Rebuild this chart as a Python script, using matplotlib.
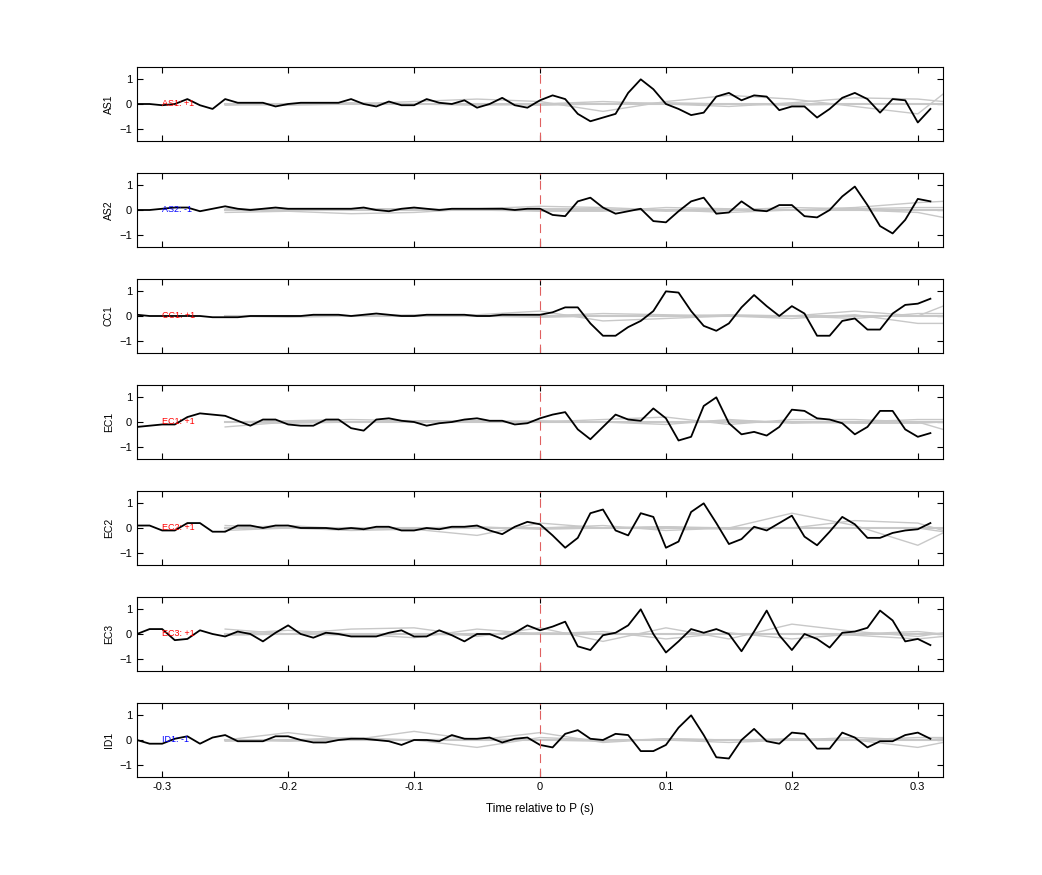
import matplotlib.pyplot as plt
import numpy as np

# ── Data ──────────────────────────────────────────────────────────────────
t = np.round(np.arange(-0.32, 0.315, 0.01), 2)          # 64 samples
t_gray = [-0.25, -0.2, -0.15, -0.1, -0.05, 0.0, 0.05, 0.1, 0.15, 0.2, 0.25, 0.3, 0.32]

channels = ['AS1', 'AS2', 'CC1', 'EC1', 'EC2', 'EC3', 'ID1']
polarity = ['+1', '-1', '+1', '+1', '+1', '+1', '-1']

as1 = [0, 0, -0.05, 0, 0.2, -0.05, -0.2, 0.2, 0.05, 0.05, 0.05, -0.1, 0, 0.05, 0.05, 0.05,
       0.05, 0.2, 0, -0.1, 0.1, -0.05, -0.05, 0.2, 0.05, 0, 0.15, -0.15, 0, 0.25, -0.05, -0.15,
       0.15, 0.35, 0.2, -0.4, -0.7, -0.55, -0.4, 0.45, 1.0, 0.6, 0, -0.2, -0.45, -0.35, 0.3, 0.45,
       0.15, 0.35, 0.3, -0.25, -0.1, -0.1, -0.55, -0.2, 0.25, 0.45, 0.2, -0.35, 0.2, 0.15, -0.75, -0.2]
as2 = [0, 0, 0.05, 0.1, 0.1, -0.05, 0.05, 0.15, 0.05, 0, 0.05, 0.1, 0.05, 0.05, 0.05, 0.05,
       0.05, 0.05, 0.1, 0, -0.05, 0.05, 0.1, 0.05, 0, 0.05, 0.05, 0.05, 0.05, 0.05, 0, 0.05,
       0.05, -0.2, -0.25, 0.35, 0.5, 0.1, -0.15, -0.05, 0.05, -0.45, -0.5, -0.05, 0.35, 0.5, -0.15, -0.1,
       0.35, 0, -0.05, 0.2, 0.2, -0.25, -0.3, 0, 0.55, 0.95, 0.2, -0.65, -0.95, -0.4, 0.45, 0.35]
cc1 = [0.05, 0, 0, 0, 0, 0, -0.05, -0.05, -0.05, 0, 0, 0, 0, 0, 0.05, 0.05,
       0.05, 0, 0.05, 0.1, 0.05, 0, 0, 0.05, 0.05, 0.05, 0.05, 0, 0, 0.05, 0.05, 0.05,
       0.05, 0.15, 0.35, 0.35, -0.3, -0.8, -0.8, -0.45, -0.2, 0.2, 1.0, 0.95, 0.2, -0.4, -0.6, -0.3,
       0.35, 0.85, 0.4, 0, 0.4, 0.1, -0.8, -0.8, -0.2, -0.1, -0.55, -0.55, 0.1, 0.45, 0.5, 0.7]
ec1 = [-0.2, -0.15, -0.1, -0.1, 0.2, 0.35, 0.3, 0.25, 0.05, -0.15, 0.1, 0.1, -0.1, -0.15, -0.15, 0.1,
       0.1, -0.25, -0.35, 0.1, 0.15, 0.05, 0, -0.15, -0.05, 0, 0.1, 0.15, 0.05, 0.05, -0.1, -0.05,
       0.15, 0.3, 0.4, -0.3, -0.7, -0.2, 0.3, 0.1, 0.05, 0.55, 0.15, -0.75, -0.6, 0.65, 1.0, -0.05,
       -0.5, -0.4, -0.55, -0.2, 0.5, 0.45, 0.15, 0.1, -0.05, -0.5, -0.2, 0.45, 0.45, -0.3, -0.6, -0.45]
ec2 = [0.1, 0.1, -0.1, -0.1, 0.2, 0.2, -0.15, -0.15, 0.1, 0.1, 0, 0.1, 0.1, 0, 0, 0,
       -0.05, 0, -0.05, 0.05, 0.05, -0.1, -0.1, 0, -0.05, 0.05, 0.05, 0.1, -0.1, -0.25, 0.05, 0.25,
       0.15, -0.3, -0.8, -0.4, 0.6, 0.75, -0.1, -0.3, 0.6, 0.45, -0.8, -0.55, 0.65, 1.0, 0.2, -0.65,
       -0.45, 0.05, -0.1, 0.2, 0.5, -0.35, -0.7, -0.15, 0.45, 0.15, -0.4, -0.4, -0.2, -0.1, -0.05, 0.2]
ec3 = [0, 0.2, 0.2, -0.25, -0.2, 0.15, 0, -0.1, 0.1, 0, -0.3, 0.05, 0.35, 0, -0.15, 0.05,
       0, -0.1, -0.1, -0.1, 0.05, 0.15, -0.1, -0.1, 0.15, -0.05, -0.3, 0, 0, -0.2, 0.05, 0.35,
       0.15, 0.3, 0.5, -0.5, -0.65, -0.05, 0.05, 0.35, 1.0, 0, -0.75, -0.3, 0.2, 0.05, 0.2, 0,
       -0.7, 0.1, 0.95, -0.05, -0.65, 0, -0.2, -0.55, 0.05, 0.1, 0.25, 0.95, 0.55, -0.3, -0.2, -0.45]
id1 = [0, -0.15, -0.15, 0.05, 0.15, -0.15, 0.1, 0.2, -0.05, -0.05, -0.05, 0.15, 0.15, 0, -0.1, -0.1,
       0, 0.05, 0.05, 0, -0.05, -0.2, 0, 0, -0.05, 0.2, 0.05, 0.05, 0.1, -0.1, 0.05, 0.1,
       -0.2, -0.3, 0.25, 0.4, 0.05, 0, 0.25, 0.2, -0.45, -0.45, -0.2, 0.5, 1.0, 0.2, -0.7, -0.75,
       0, 0.45, -0.05, -0.15, 0.3, 0.25, -0.35, -0.35, 0.3, 0.1, -0.3, -0.05, -0.05, 0.2, 0.3, 0.05]

# smooth grey reference traces (coarse samples)
gray_as1 = [[0, 0, 0, 0.1, 0.2, 0.1, -0.3, 0.1, 0.35, 0.2, -0.1, -0.4, 0.4],
            [-0.05, 0, 0.05, 0, -0.05, 0, 0.1, 0, -0.1, 0.05, 0.25, 0.2, 0.1],
            [0, -0.05, 0, 0, 0, -0.05, 0, 0.05, 0, -0.05, 0, 0, 0]]
gray_as2 = [[-0.1, -0.05, -0.15, -0.1, 0.05, 0.15, 0.1, 0, -0.1, 0, 0.1, 0.3, 0.35],
            [0, 0.05, 0, 0, 0, -0.05, -0.05, 0.1, 0.05, 0, 0, -0.1, -0.3],
            [0.05, 0, 0.05, 0.05, 0, 0.05, 0.05, -0.05, 0, 0.1, 0.05, 0.1, 0.1]]
gray_cc1 = [[0, 0, 0, 0, 0.05, 0.2, -0.2, -0.1, 0, 0, 0.2, 0, 0.4],
            [0, -0.05, 0, 0, 0, 0, 0.1, 0.05, 0, -0.1, 0.05, -0.3, -0.3],
            [0, 0, 0, 0.05, 0, -0.05, 0, 0, 0.05, 0, -0.1, 0.1, 0.1]]
gray_ec1 = [[-0.2, 0, 0, 0.05, 0.05, 0, 0.1, 0.2, -0.1, 0.1, 0.1, 0, -0.3],
            [0, 0.05, 0.1, 0.05, 0, 0.05, 0, -0.1, 0.1, -0.05, 0, 0.1, 0.1],
            [0, -0.05, 0, 0, 0.05, 0, 0, 0, 0.05, 0, -0.05, -0.05, 0]]
gray_ec2 = [[0.1, 0, -0.1, -0.05, -0.3, 0.2, 0, 0.05, 0, 0.6, 0.1, -0.7, -0.2],
            [-0.1, 0, 0, -0.05, 0, 0, 0.1, -0.1, 0, 0, 0.3, 0.2, -0.1],
            [0, 0.1, -0.05, 0, 0.05, -0.05, 0, 0.05, -0.05, 0, 0, 0, -0.15]]
gray_ec3 = [[0.2, 0, 0.2, 0.25, -0.1, 0.25, -0.3, 0.25, -0.2, 0.4, 0.1, -0.1, 0.05],
            [0, 0.15, 0, -0.15, 0.2, 0, 0.1, -0.2, 0.05, -0.2, 0, 0.1, 0],
            [-0.05, 0, -0.05, 0, -0.05, 0.05, 0, 0, 0, 0, -0.05, -0.2, -0.1]]
gray_id1 = [[0, 0.3, 0, 0.35, 0, 0.3, -0.1, 0.05, 0, 0.05, 0, -0.3, -0.1],
            [-0.05, 0, 0.1, 0, -0.3, 0.1, 0, 0, -0.1, 0, 0.1, 0, 0.05],
            [0, -0.05, 0, 0, 0.05, 0, -0.05, 0.05, 0, 0, 0, 0.1, 0.1]]

traces = [as1, as2, cc1, ec1, ec2, ec3, id1]
grays = [gray_as1, gray_as2, gray_cc1, gray_ec1, gray_ec2, gray_ec3, gray_id1]

# ── Figure ────────────────────────────────────────────────────────────────
W, H = 1042, 875
fig = plt.figure(figsize=(W / 100, H / 100), dpi=100)
plt.rcParams['font.family'] = ['Liberation Sans', 'DejaVu Sans']

left, right = 137 / W, 943 / W
tops = [67, 173, 279, 385, 491, 597, 703]
ph = 74

for i, (name, pol) in enumerate(zip(channels, polarity)):
    ax = fig.add_axes([left, 1 - (tops[i] + ph) / H, right - left, ph / H])
    for g in grays[i]:
        ax.plot(t_gray, g, color='#c8c8c8', lw=1)
    ax.plot([-0.25, 0.32], [0, 0], color='#c8c8c8', lw=1.5)
    ax.plot(t, traces[i], color='black', lw=1.3)
    ax.axvline(0, color='#e06060', lw=0.8, ls=(0, (8, 5)))
    col = 'red' if pol == '+1' else 'blue'
    ax.text(-0.3, 0, f'{name}: {pol}', color=col, fontsize=6.5, va='center')
    ax.set_xlim(-0.32, 0.32)
    ax.set_ylim(-1.5, 1.5)
    ax.set_yticks([-1, 0, 1])
    ax.set_xticks([-0.3, -0.2, -0.1, 0, 0.1, 0.2, 0.3])
    ax.tick_params(direction='in', top=True, right=True, labelsize=8, length=4)
    ax.set_ylabel(name, fontsize=7.5)
    if i < 6:
        ax.set_xticklabels([])
    else:
        ax.set_xticklabels(['-0.3', '-0.2', '-0.1', '0', '0.1', '0.2', '0.3'])
        ax.set_xlabel('Time relative to P (s)', fontsize=8.5, labelpad=8)

fig.savefig('out.png', dpi=100)
